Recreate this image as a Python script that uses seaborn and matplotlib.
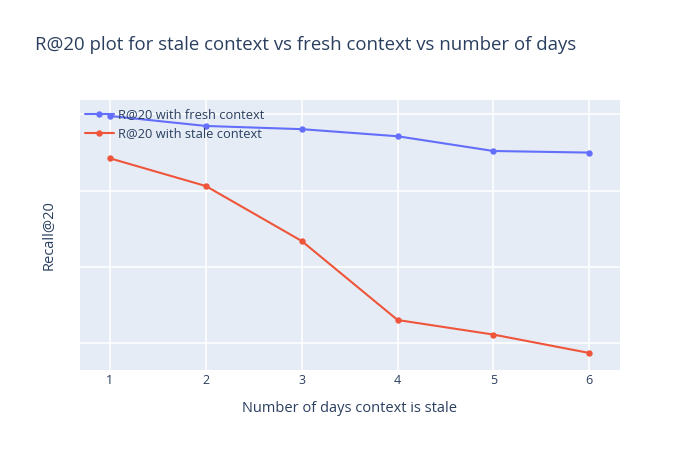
import matplotlib
matplotlib.use("Agg")
import matplotlib.pyplot as plt
import seaborn as sns
import pandas as pd

days = [1, 2, 3, 4, 5, 6]
fresh_recall = [0.8978, 0.8847, 0.8805, 0.8712, 0.8519, 0.8498]
stale_recall = [0.8423, 0.8060, 0.7340, 0.6305, 0.6114, 0.5873]
series_names = ["R@20 with fresh context", "R@20 with stale context"]
x_ticks = [1, 2, 3, 4, 5, 6]
y_grid = [0.6, 0.7, 0.8, 0.9]

TEXT = "#2a3f5f"
BG = "#E5ECF6"
COLORS = ["#636efa", "#EF553B"]

sns.set_theme(style="white")
plt.rcParams["font.family"] = ["Open Sans", "DejaVu Sans"]

df = pd.DataFrame({
    "days": days * 2,
    "recall": fresh_recall + stale_recall,
    "series": [series_names[0]] * len(days) + [series_names[1]] * len(days),
})

fig = plt.figure(figsize=(7, 4.5), dpi=100)
ax = fig.add_axes([80 / 700, 80 / 450, 540 / 700, 270 / 450])
ax.set_facecolor(BG)

sns.lineplot(data=df, x="days", y="recall", hue="series", palette=COLORS,
             marker="o", markersize=4.6, markeredgewidth=0, linewidth=1.5,
             ax=ax, zorder=3)

ax.set_xlim(0.6875, 6.32)
ax.set_ylim(0.565, 0.9187)
ax.set_xticks(x_ticks)
ax.set_xticklabels([str(t) for t in x_ticks], color=TEXT, fontsize=9)
ax.set_yticks(y_grid)
ax.set_yticklabels([])
ax.tick_params(axis="both", length=0, pad=3)
ax.grid(True, color="white", linewidth=1.1, zorder=0)
ax.set_axisbelow(True)
for s in ax.spines.values():
    s.set_visible(False)

ax.set_xlabel("Number of days context is stale", color=TEXT, fontsize=10.5, labelpad=10)
ax.set_ylabel("Recall@20", color=TEXT, fontsize=10.5, labelpad=14)

leg = ax.legend(loc="upper left", bbox_to_anchor=(-0.006, 0.998), frameon=False,
                fontsize=9.3, labelcolor=TEXT, handlelength=2.3, handletextpad=0.3,
                borderaxespad=0.2, labelspacing=0.45)

fig.text(35 / 700, 1 - 50 / 450, "R@20 plot for stale context vs fresh context vs number of days",
         color=TEXT, fontsize=13.4, ha="left", va="baseline")

fig.savefig("out.png", dpi=100, facecolor="white")
